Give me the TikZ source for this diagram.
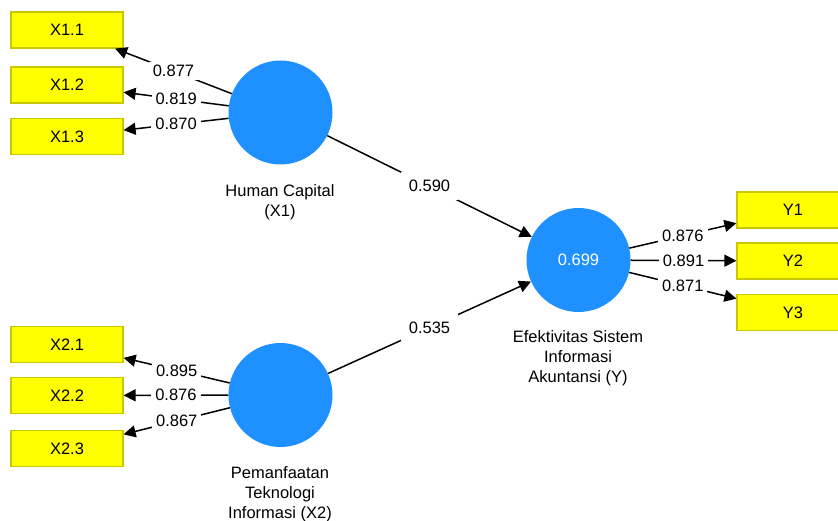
\documentclass[tikz,border=0pt]{standalone}
\usepackage{fontspec}
\setmainfont{Liberation Sans}
\usetikzlibrary{arrows.meta}
\definecolor{lvblue}{RGB}{30,144,255}
\definecolor{ind}{RGB}{255,255,0}
\definecolor{indb}{RGB}{200,200,0}
\tikzset{
  indbox/.style={draw=indb, line width=1.2pt, fill=ind, minimum width=112pt, minimum height=36pt, inner sep=0pt, font=\fontsize{16.5}{18}\selectfont},
  latent/.style={circle, fill=lvblue, draw=none, minimum size=104pt, inner sep=0pt},
  conn/.style={line width=1.5pt, -{Triangle[length=12pt,width=12pt]}},
  wlab/.style={fill=white, inner xsep=4pt, inner ysep=3pt, font=\fontsize{16.5}{18}\selectfont},
  caption/.style={align=center, font=\fontsize{16.5}{20}\selectfont}
}
\begin{document}
\begin{tikzpicture}[x=1pt,y=-1pt]
\useasboundingbox (0,0) rectangle (838,521);
% indicator boxes
\node[indbox] (x11) at (67,30) {X1.1};
\node[indbox] (x12) at (67,85) {X1.2};
\node[indbox] (x13) at (67,136.5) {X1.3};
\node[indbox] (x21) at (67,344.5) {X2.1};
\node[indbox] (x22) at (67,395.5) {X2.2};
\node[indbox] (x23) at (67,448.5) {X2.3};
\node[indbox] (y1) at (793,210) {Y1};
\node[indbox] (y2) at (793,261) {Y2};
\node[indbox] (y3) at (793,312.5) {Y3};
% latent variables
\node[latent] (X1) at (280.5,112.5) {};
\node[latent] (X2) at (280.5,395) {};
\node[latent, font=\fontsize{16.5}{18}\selectfont, text=white] (Y) at (578.5,260) {0.699};
% captions
\node[caption] (cX1) at (280,202) {Human Capital\\(X1)};
\node[caption] (cX2) at (280,494) {Pemanfaatan\\Teknologi\\Informasi (X2)};
\node[caption] (cY) at (578,358) {Efektivitas Sistem\\Informasi\\Akuntansi (Y)};
% outer loadings X1
\draw[conn] (X1) -- node[wlab, pos=0.5] {0.877} (x11);
\draw[conn] (X1) -- node[wlab, pos=0.5] {0.819} (x12);
\draw[conn] (X1) -- node[wlab, pos=0.5] {0.870} (x13);
% outer loadings X2
\draw[conn] (X2) -- node[wlab, pos=0.5] {0.895} (x21);
\draw[conn] (X2) -- node[wlab, pos=0.5] {0.876} (x22);
\draw[conn] (X2) -- node[wlab, pos=0.5] {0.867} (x23);
% outer loadings Y
\draw[conn] (Y) -- node[wlab, pos=0.5] {0.876} (y1);
\draw[conn] (Y) -- node[wlab, pos=0.5] {0.891} (y2);
\draw[conn] (Y) -- node[wlab, pos=0.5] {0.871} (y3);
% paths
\draw[conn] (X1) -- node[wlab, inner sep=8pt] {0.590} (Y);
\draw[conn] (X2) -- node[wlab, inner sep=8pt] {0.535} (Y);
\end{tikzpicture}
\end{document}
